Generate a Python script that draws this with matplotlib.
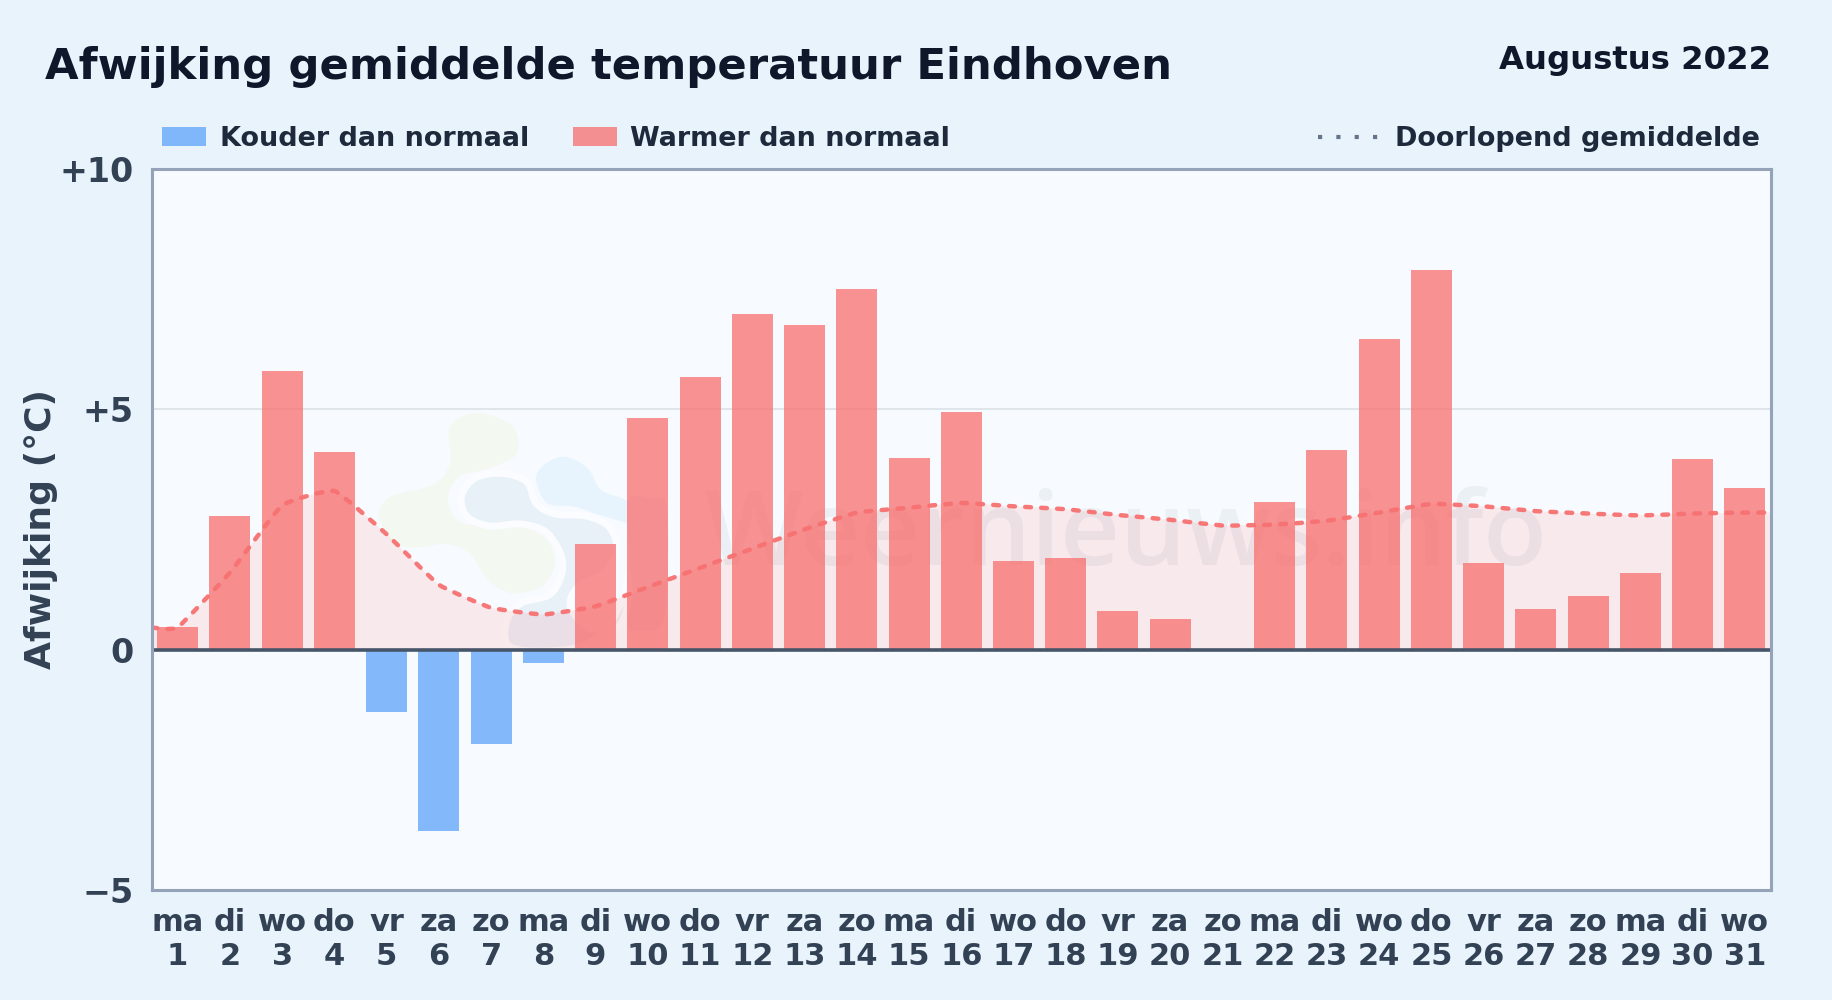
import matplotlib
matplotlib.use("Agg")
import matplotlib.pyplot as plt
from matplotlib.path import Path
from matplotlib.patches import PathPatch, Patch
from matplotlib.lines import Line2D
from matplotlib.transforms import IdentityTransform

days = list(range(1, 32))
weekdays = ["ma","di","wo","do","vr","za","zo","ma","di","wo","do","vr","za","zo","ma","di",
            "wo","do","vr","za","zo","ma","di","wo","do","vr","za","zo","ma","di","wo"]
deviation = [0.46,2.77,5.8,4.1,-1.3,-3.77,-1.97,-0.27,2.2,4.82,5.67,6.98,6.76,7.49,3.99,4.94,
             1.85,1.9,0.8,0.63,0.0,3.07,4.16,6.47,7.9,1.8,0.85,1.12,1.6,3.97,3.36]
running = [0.46,1.6,3.0,3.3,2.4,1.35,0.87,0.73,0.9,1.3,1.7,2.1,2.5,2.85,2.95,3.05,
           2.98,2.92,2.8,2.7,2.58,2.6,2.68,2.85,3.03,2.98,2.88,2.83,2.79,2.83,2.85]
yticks = [-5, 0, 5, 10]
yticklabels = ["\u22125", "0", "+5", "+10"]

BG = "#e8f3fc"
W, H = 1832, 1000
plt.rcParams["font.family"] = ["DejaVu Sans"]
fig = plt.figure(figsize=(W/100, H/100), dpi=100, facecolor=BG)
L, R, T, B = 151.5, 1771, 168.8, 890
ax = fig.add_axes([L/W, 1-B/H, (R-L)/W, (B-T)/H], facecolor="#f7fbff")
ax.set_xlim(0.5, 31.5)
ax.set_ylim(-5, 10)

def smooth(xs, ys, closed=False, t=1/6):
    n = len(xs)
    verts, codes = [(xs[0], ys[0])], [Path.MOVETO]
    segs = n if closed else n-1
    for i in range(segs):
        if closed:
            p0, p1, p2, p3 = [(xs[(i+k) % n], ys[(i+k) % n]) for k in (-1, 0, 1, 2)]
        else:
            a, d = max(i-1, 0), min(i+2, n-1)
            p0, p1, p2, p3 = (xs[a], ys[a]), (xs[i], ys[i]), (xs[i+1], ys[i+1]), (xs[d], ys[d])
        verts += [(p1[0]+(p2[0]-p0[0])*t, p1[1]+(p2[1]-p0[1])*t),
                  (p2[0]-(p3[0]-p1[0])*t, p2[1]-(p3[1]-p1[1])*t), p2]
        codes += [Path.CURVE4]*3
    return verts, codes

# watermark blobs (zoom coordinates of the decorative logo)
def blob(pts, color, edge=None):
    xs = [360+p[0]/2.613 for p in pts]
    ys = [H-(390+p[1]/3) for p in pts]
    v, c = smooth(xs, ys, closed=True)
    ax.add_patch(PathPatch(Path(v, c), fc=color, ec=edge or "none", lw=5 if edge else 0,
                           transform=IdentityTransform(), zorder=1))

blob([(320,70),(400,110),(410,190),(340,235),(260,260),(230,330),(270,400),(400,405),(480,440),(510,510),
      (480,585),(400,610),(335,570),(285,490),(225,462),(150,472),(90,460),(50,380),(80,320),(190,285),
      (235,220),(232,120),(265,80)], "#f3f8f1")
blob([(535,200),(595,235),(630,300),(700,335),(720,400),(640,380),(560,350),(490,340),(460,270),(480,225)], "#e8f4fd")
blob([(700,335),(760,325),(800,345),(805,530),(790,700),(730,722),(700,700),(705,520)], "#e9f0f8")
blob([(370,250),(435,275),(460,340),(510,372),(590,378),(650,410),(672,480),(640,545),(570,590),(550,650),
      (600,715),(670,715),(700,640),(700,560),(690,620),(640,720),(560,775),(400,775),(382,700),(420,640),
      (500,610),(530,520),(490,430),(420,402),(340,408),(280,380),(265,320),(300,265)], "#e8f0f8", "#fafcff")
ax.text(704/W, 1-565/H, "Weernieuws.info", transform=fig.transFigure, family="Open Sans", fontweight="semibold",
        fontsize=75, color="#64748b", alpha=0.08, ha="left", va="baseline", zorder=1.2)

ax.yaxis.grid(True, color="#dfe5ea", lw=1.5, zorder=1.5)
ax.set_axisbelow(True)

line_x = [ax.get_xlim()[0]] + days + [ax.get_xlim()[1]]
line_y = [running[0]] + running + [running[-1]]
v, c = smooth(line_x, line_y, t=0.06)
fv = v + [(line_x[-1], 0), (line_x[0], 0), v[0]]
fc = c + [Path.LINETO, Path.LINETO, Path.CLOSEPOLY]
ax.add_patch(PathPatch(Path(fv, fc), fc="#f87171", ec="none", alpha=0.13, zorder=2))

colors = ["#60a5fa" if d < 0 else "#f87171" for d in deviation]
ax.bar(days, deviation, width=0.785, color=colors, alpha=0.77, linewidth=0, zorder=3)

ax.add_patch(PathPatch(Path(v, c), fill=False, ec="#f87171", lw=3.2, linestyle=(0, (1.3, 2.3)),
                       capstyle="round", alpha=0.95, zorder=4))
ax.axhline(0, color="#475569", lw=2.6, zorder=5)

for s in ax.spines.values():
    s.set_color("#94a3b8")
    s.set_linewidth(2.2)
    s.set_zorder(6)

ax.set_xticks(days)
ax.set_xticklabels([f"{w}\n{d}" for w, d in zip(weekdays, days)], fontsize=22, fontweight="bold",
                   color="#334155", linespacing=1.2)
ax.set_yticks(yticks)
ax.set_yticklabels(yticklabels, fontsize=24, fontweight="bold", color="#334155")
ax.tick_params(axis="y", length=0, pad=13)
ax.tick_params(axis="x", length=0, pad=13)
ax.set_ylabel("Afwijking (\u00b0C)", fontsize=26, fontweight="bold", color="#334155")
ax.yaxis.set_label_coords((58-L)/(R-L), 0.5)

fig.text(45/W, 1-67/H, "Afwijking gemiddelde temperatuur Eindhoven", fontsize=31.2, fontweight="bold",
         color="#0f172a", ha="left", va="center")
fig.text(R/W, 1-61/H, "Augustus 2022", fontsize=23.3, fontweight="bold", color="#0f172a",
         ha="right", va="center")

handles1 = [Patch(fc="#60a5fa", alpha=0.77, lw=0, label="Kouder dan normaal"),
            Patch(fc="#f87171", alpha=0.77, lw=0, label="Warmer dan normaal")]
fs = 19.45
leg1 = fig.legend(handles=handles1, loc="center left", bbox_to_anchor=(162/W, 1-139/H), ncol=2, frameon=False,
                  prop={"size": fs, "weight": "bold"}, labelcolor="#1e293b", borderpad=0, borderaxespad=0,
                  handlelength=1.63, handleheight=0.7, handletextpad=0.5, columnspacing=1.62)
handles2 = [Line2D([], [], color="#64748b", lw=3, linestyle=(0, (1.0, 3.4)), label="Doorlopend gemiddelde")]
leg2 = fig.legend(handles=handles2, loc="center right", bbox_to_anchor=(1760/W, 1-139/H), frameon=False,
                  prop={"size": fs, "weight": "bold"}, labelcolor="#1e293b", borderpad=0, borderaxespad=0,
                  handlelength=2.2, handletextpad=0.65)

fig.savefig("out.png", dpi=100, facecolor=BG)
